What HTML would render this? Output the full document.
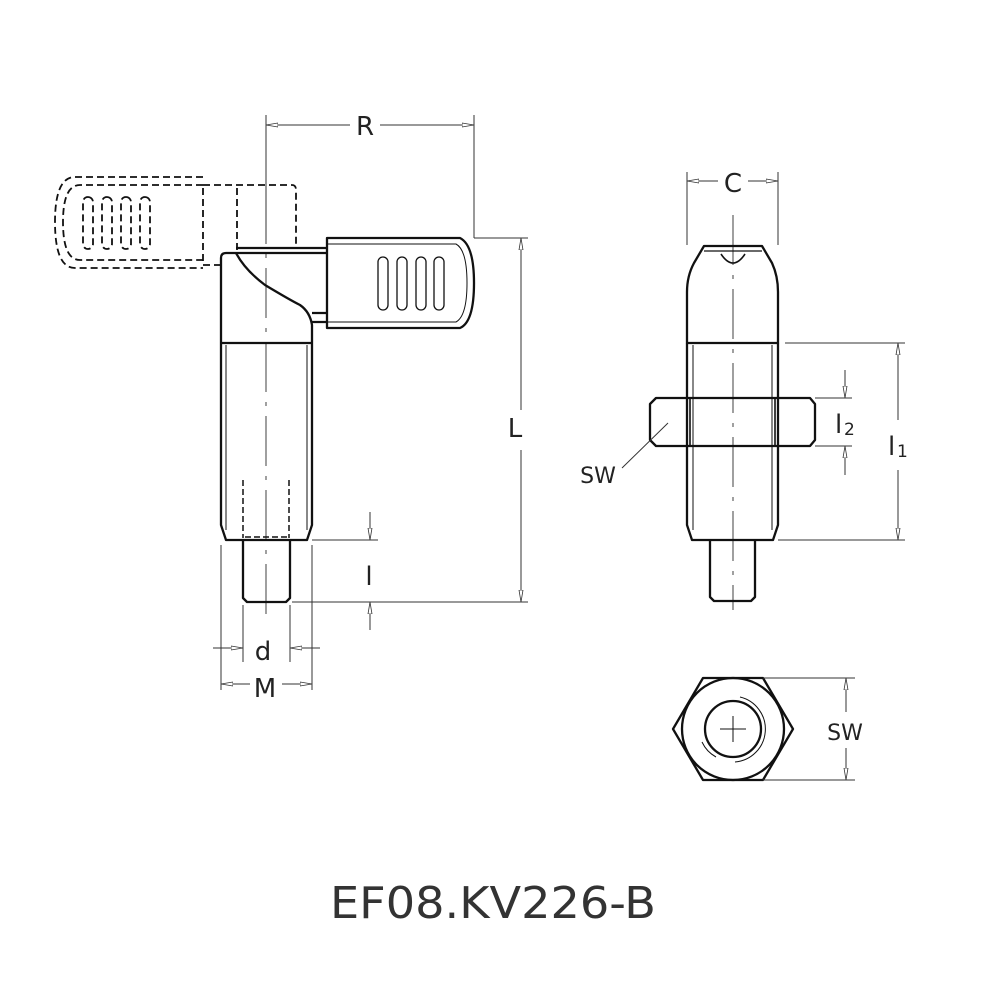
<!DOCTYPE html>
<html><head><meta charset="utf-8"><style>
html,body{margin:0;padding:0;background:#fff}
svg{display:block}
text{font-family:"DejaVu Sans","Liberation Sans",sans-serif;fill:#222}
</style></head><body>
<svg width="1000" height="1000" viewBox="0 0 1000 1000" xmlns="http://www.w3.org/2000/svg">
<defs>
<marker id="a" viewBox="0 0 12 6" refX="12" refY="3" markerWidth="12" markerHeight="6" orient="auto" markerUnits="userSpaceOnUse">
<path d="M0,1 L12,3 L0,5 Z" fill="#fff" stroke="#333" stroke-width="0.8"/></marker>
</defs>
<g fill="none" stroke="#111" stroke-linejoin="round">
<g stroke-dasharray="7,4" stroke-width="1.8">
<path d="M203,177 H75 Q55,177 55,222 Q55,268 75,268 H203"/>
<path d="M203,185 H80 Q63,185 63,222 Q63,260 80,260 H203"/>
<path d="M203,185 H292 Q296,185 296,190 V248"/>
<path d="M203,188 V265 H220"/>
<path d="M237,188 V252"/>
<rect x="83" y="197" width="10" height="52" rx="5"/>
<rect x="102" y="197" width="10" height="52" rx="5"/>
<rect x="121" y="197" width="10" height="52" rx="5"/>
<rect x="140" y="197" width="10" height="52" rx="5"/>
</g>
<g stroke-width="2.3">
<path d="M236,253 H226 Q221,253 221,258 V343"/>
<path d="M236,248 H327"/>
<path d="M236,253 H327"/>
<path d="M236,253 Q245,270 265,285 Q290,300 300,305 Q310,312 312,325 V343"/>
<path d="M312,313 H327 M312,322 H327"/>
<path d="M221,343 H312"/>
<path d="M327,238 H460 Q474,245 474,283 Q474,322 460,328 H327 Z"/>
</g>
<path d="M327,244 H456 Q467,250 467,283 Q467,316 456,322 H327" stroke-width="1"/>
<g stroke-width="1.3">
<rect x="378" y="257" width="10" height="53" rx="5"/>
<rect x="397" y="257" width="10" height="53" rx="5"/>
<rect x="416" y="257" width="10" height="53" rx="5"/>
<rect x="434" y="257" width="10" height="53" rx="5"/>
</g>
<g stroke-width="2.3">
<path d="M221,343 V525 L226,540 H307 L312,525 V343"/>
<path d="M243,540 V598 L247,602 H286 L290,598 V540"/>
</g>
<path d="M226,345 V530 M307,345 V530" stroke-width="1"/>
<path d="M243,480 V538 M289,480 V538 M245,537 H288" stroke-width="1.5" stroke-dasharray="6,3"/>
<path d="M266,120 V620" stroke-width="0.8" stroke-dasharray="50,10,4,10"/>
<g stroke-width="2.3">
<path d="M687,343 V292 Q687,276 694,263 L704,246 H762 L772,263 Q778,276 778,292 V343 Z"/>
<path d="M704,251 H762" stroke-width="1.3"/>
<path d="M721,254 Q733,272 745,254" stroke-width="1.6"/>
<path d="M687,343 V525 L692,540 H773 L778,525 V343"/>
<path d="M656,398 H810 L815,404 V440 L810,446 H656 L650,440 V404 Z"/>
<path d="M690,398 V446 M775,398 V446" stroke-width="1.6"/>
<path d="M710,540 V597 L714,601 H751 L755,597 V540"/>
<path d="M673,729 L703,678 H763 L793,729 L763,780 H703 Z"/>
<circle cx="733" cy="729" r="51"/>
<circle cx="733" cy="729" r="28"/>
</g>
<path d="M693,345 V530 M772,345 V530" stroke-width="1"/>
<path d="M740,697 A33,33 0 0 1 735,762 M702,742 A33,33 0 0 0 716,757" stroke-width="1"/>
<path d="M720,729 H746 M733,716 V742" stroke-width="1"/>
<path d="M733,215 V610" stroke-width="0.8" stroke-dasharray="50,10,4,10"/>
</g>
<g stroke="#333" stroke-width="1" fill="none">
<path d="M266,115 V240 M474,115 V238"/>
<path d="M350,125 H266" marker-end="url(#a)"/><path d="M380,125 H474" marker-end="url(#a)"/>
<path d="M474,238 H528 M292,602 H528"/>
<path d="M521,410 V238" marker-end="url(#a)"/><path d="M521,450 V602" marker-end="url(#a)"/>
<path d="M312,540 H378"/>
<path d="M370,512 V540" marker-end="url(#a)"/><path d="M370,630 V602" marker-end="url(#a)"/>
<path d="M243,605 V662 M290,605 V662 M221,545 V690 M312,545 V690"/>
<path d="M213,648 H243" marker-end="url(#a)"/><path d="M320,648 H290" marker-end="url(#a)"/>
<path d="M250,684 H221" marker-end="url(#a)"/><path d="M282,684 H312" marker-end="url(#a)"/>
<path d="M687,172 V245 M778,172 V245"/>
<path d="M718,181 H687" marker-end="url(#a)"/><path d="M748,181 H778" marker-end="url(#a)"/>
<path d="M785,343 H905 M778,540 H905"/>
<path d="M898,420 V343" marker-end="url(#a)"/><path d="M898,470 V540" marker-end="url(#a)"/>
<path d="M815,398 H852 M815,446 H852"/>
<path d="M845,370 V398" marker-end="url(#a)"/><path d="M845,475 V446" marker-end="url(#a)"/>
<path d="M622,468 L668,423"/>
<path d="M763,678 H855 M763,780 H855"/>
<path d="M846,712 V678" marker-end="url(#a)"/><path d="M846,748 V780" marker-end="url(#a)"/>
</g>
<g font-size="26">
<text x="365" y="135" text-anchor="middle">R</text>
<text x="515" y="437" text-anchor="middle">L</text>
<text x="369" y="585" text-anchor="middle">l</text>
<text x="263" y="660" text-anchor="middle">d</text>
<text x="265" y="697" text-anchor="middle">M</text>
<text x="733" y="192" text-anchor="middle">C</text>
<text x="835" y="433">l</text><text x="844" y="435" font-size="17">2</text>
<text x="888" y="455">l</text><text x="897" y="457" font-size="17">1</text>
<text x="598" y="483" text-anchor="middle" font-size="22">SW</text>
<text x="845" y="740" text-anchor="middle" font-size="22">SW</text>
</g>
<text x="493" y="918" text-anchor="middle" font-size="44" style="fill:#333" textLength="326" lengthAdjust="spacingAndGlyphs">EF08.KV226-B</text>
</svg>
</body></html>
